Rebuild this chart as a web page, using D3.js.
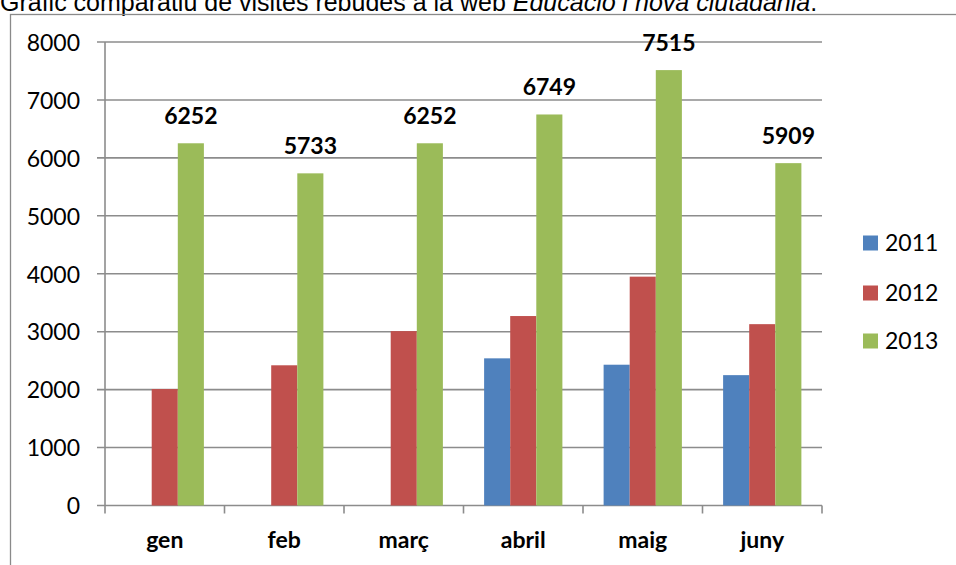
<!DOCTYPE html>
<html><head><meta charset="utf-8">
<script src="https://cdn.jsdelivr.net/npm/d3@7"></script>
<style>
html,body{margin:0;padding:0;background:#fff;overflow:hidden;}
svg{display:block;}
</style>
</head><body>
<svg id="c" width="956" height="565"></svg>
<script>
const categories = ["gen","feb","març","abril","maig","juny"];
const seriesNames = ["2011","2012","2013"];
const values2011 = [null, null, null, 2540, 2430, 2250];
const values2012 = [2010, 2420, 3010, 3270, 3950, 3130];
const values2013 = [6252, 5733, 6252, 6749, 7515, 5909];
const yTicks = [0,1000,2000,3000,4000,5000,6000,7000,8000];
const colors = ["#4F81BD","#C0504D","#9BBB59"];
const allSeries = [values2011, values2012, values2013];

(function(){
const svg = d3.select("#c");
const font = "Lato, 'Open Sans', sans-serif";

// title (cut off at top, as in the reference)
const title = svg.append("text").attr("x", 0).attr("y", 11)
  .attr("font-family","'Liberation Sans', Arial, sans-serif").attr("font-size", 25).attr("fill","#000");
title.append("tspan").text("Gràfic comparatiu de visites rebudes a la web ");
title.append("tspan").attr("font-style","italic").text("Educació i nova ciutadania");
title.append("tspan").text(".");

// frame
svg.append("rect").attr("x",10.5).attr("y",14.5).attr("width",960).attr("height",560)
  .attr("fill","none").attr("stroke","#8a8a8a").attr("stroke-width",1.3);

const pL = 105, pR = 822, pT = 42, pB = 505.5;
const x = d3.scaleBand().domain(categories).range([pL, pR]).paddingInner(0).paddingOuter(0);
const groupW = x.bandwidth() * 0.655;
const x1 = d3.scaleBand().domain(seriesNames).range([0, groupW]).padding(0);
const y = d3.scaleLinear().domain([0, 8000]).range([pB, pT]);

// gridlines
svg.append("g").selectAll("line").data(yTicks).join("line")
  .attr("x1", pL - 8).attr("x2", pR)
  .attr("y1", d => y(d)).attr("y2", d => y(d))
  .attr("stroke", "#8c8c8c").attr("stroke-width", 1.6);

// y axis labels via d3 axis
const yAxis = d3.axisLeft(y).tickValues(yTicks).tickSize(0).tickPadding(0).tickFormat(d3.format("d"));
const ya = svg.append("g").attr("transform", `translate(${pL - 25},0)`).call(yAxis);
ya.select(".domain").remove();
ya.selectAll("text").attr("font-family", font).attr("font-size", 23).attr("fill", "#000").attr("dy","0.36em");

// vertical axis line
svg.append("line").attr("x1", pL).attr("x2", pL).attr("y1", pT).attr("y2", pB + 8)
  .attr("stroke", "#8c8c8c").attr("stroke-width", 1.6);

// category ticks
const bounds = categories.map(c => x(c)).concat([pR]);
svg.append("g").selectAll("line").data(bounds.slice(1)).join("line")
  .attr("x1", d => d).attr("x2", d => d).attr("y1", pB).attr("y2", pB + 8)
  .attr("stroke", "#8c8c8c").attr("stroke-width", 1.6);

// bars
allSeries.forEach((vals, si) => {
  svg.append("g").selectAll("rect").data(categories.map((c, i) => ({c, v: vals[i]})).filter(d => d.v != null))
    .join("rect")
    .attr("x", d => x(d.c) + x.bandwidth()/2 - groupW/2 + x1(seriesNames[si]))
    .attr("width", x1.bandwidth())
    .attr("y", d => y(d.v))
    .attr("height", d => y(0) - y(d.v))
    .attr("fill", colors[si]);
});

// data labels for 2013
svg.append("g").selectAll("text").data(categories.map((c, i) => ({c, v: values2013[i]})))
  .join("text")
  .attr("x", d => x(d.c) + x.bandwidth()/2 - groupW/2 + x1("2013") + x1.bandwidth()/2)
  .attr("y", d => y(d.v) - 19)
  .attr("text-anchor", "middle").attr("font-family", font).attr("font-weight", "bold")
  .attr("font-size", 23).attr("fill", "#000").text(d => d.v);

// x axis labels
const xAxis = d3.axisBottom(x).tickSize(0).tickPadding(0);
const xa = svg.append("g").attr("transform", `translate(0,${pB})`).call(xAxis);
xa.select(".domain").remove();
xa.selectAll("text").attr("font-family", font).attr("font-weight","bold").attr("font-size", 23)
  .attr("fill","#000").attr("y", 42).attr("dy", 0);

// legend
const legY = [243, 293, 341];
const leg = svg.append("g");
seriesNames.forEach((s, i) => {
  leg.append("rect").attr("x", 863).attr("y", legY[i] - 7.5).attr("width", 15).attr("height", 15).attr("fill", colors[i]);
  leg.append("text").attr("x", 885).attr("y", legY[i]).attr("dy","0.36em")
    .attr("font-family", font).attr("font-size", 23).attr("fill","#000").text(s);
});
})();
</script>
</body></html>
